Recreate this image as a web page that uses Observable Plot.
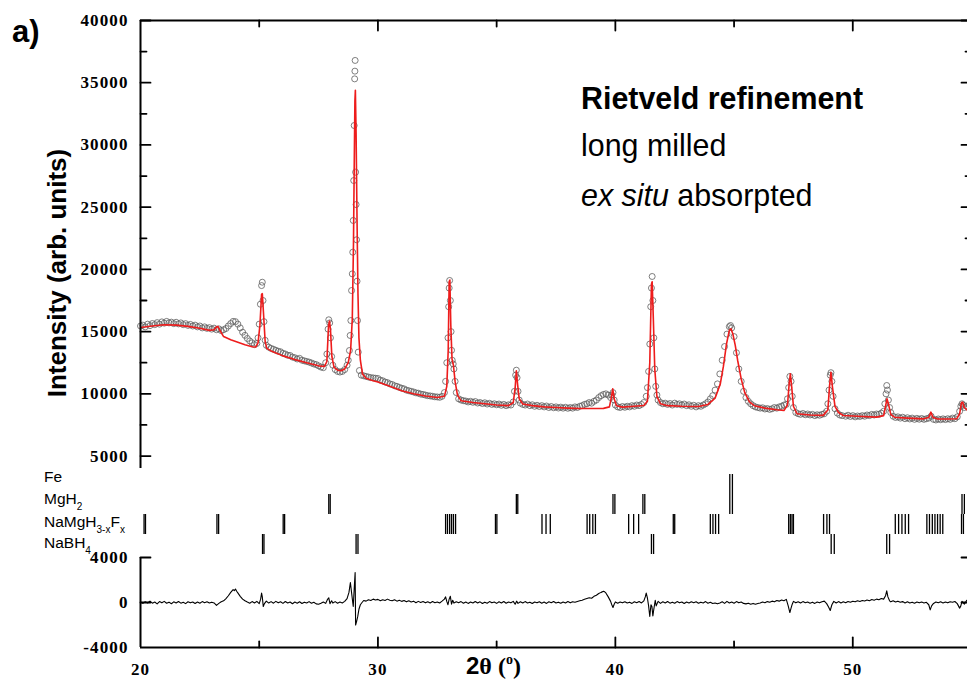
<!DOCTYPE html>
<html><head><meta charset="utf-8">
<script src="https://cdn.jsdelivr.net/npm/d3@7"></script>
<script src="https://cdn.jsdelivr.net/npm/@observablehq/plot@0.6"></script>
<style>
html,body{margin:0;padding:0;background:#fff;overflow:hidden;}
#chart{position:relative;width:967px;height:683px;overflow:hidden;background:#fff;}
#chart svg{position:absolute;left:0;top:0;}
</style></head><body><div id="chart"></div>
<script>
// ---------- data ----------
const observed = [
[20.0,15450],[20.1,15520],[20.2,15380],[20.3,15600],[20.4,15480],[20.5,15650],[20.6,15560],[20.7,15720],[20.8,15600],[20.9,15780],
[21.0,15680],[21.1,15820],[21.2,15700],[21.3,15760],[21.4,15640],[21.5,15750],[21.6,15620],[21.7,15700],[21.8,15560],[21.9,15640],
[22.0,15500],[22.1,15580],[22.2,15450],[22.3,15520],[22.4,15380],[22.5,15450],[22.6,15300],[22.7,15380],[22.8,15260],[22.9,15320],
[23.0,15200],[23.1,15280],[23.2,15150],[23.3,15220],[23.4,15080],[23.5,15150],[23.6,15250],[23.7,15450],[23.8,15650],[23.9,15820],
[24.0,15800],[24.1,15600],[24.2,15300],[24.3,14950],[24.4,14700],[24.5,14450],[24.6,14250],[24.7,14100],[24.8,13950],[24.9,14050],
[24.95,14500],[25.0,15600],[25.05,17200],[25.1,18700],[25.13,18970],[25.16,17500],[25.2,15800],[25.25,14300],[25.3,13900],[25.4,13750],
[25.5,13650],[25.6,13580],[25.7,13500],[25.8,13420],[25.9,13380],[26.0,13250],[26.1,13200],[26.2,13100],[26.3,13080],[26.4,12950],
[26.5,12900],[26.6,12800],[26.7,12850],[26.8,12700],[26.9,12650],[27.0,12600],[27.1,12550],[27.2,12480],[27.3,12400],[27.4,12350],
[27.5,12250],[27.6,12150],[27.7,12100],[27.8,12500],[27.85,13200],[27.9,15200],[27.93,15950],[27.97,15700],[28.0,14500],[28.05,13000],
[28.1,12300],[28.2,11950],[28.3,11800],[28.4,11750],[28.5,11800],[28.6,11950],[28.7,12300],[28.75,12700],[28.8,13480],[28.83,14690],
[28.86,15890],[28.89,18300],[28.92,19640],[28.94,21380],[28.96,23930],[28.98,27140],[29.0,31560],[29.02,35310],[29.03,35930],[29.04,36790],
[29.06,27810],[29.08,25210],[29.1,22380],[29.12,19050],[29.14,15890],[29.17,13350],[29.22,11870],[29.3,11500],[29.4,11450],[29.5,11400],
[29.6,11350],[29.7,11300],[29.8,11280],[29.9,11250],[30.0,11230],[30.1,11100],[30.2,11050],[30.3,10950],[30.4,10900],[30.5,10800],
[30.6,10750],[30.7,10650],[30.8,10600],[30.9,10520],[31.0,10450],[31.1,10400],[31.2,10300],[31.3,10250],[31.4,10200],[31.5,10150],
[31.6,10080],[31.7,10050],[31.8,9980],[31.9,9950],[32.0,9900],[32.1,9850],[32.2,9830],[32.3,9800],[32.4,9760],[32.5,9750],
[32.6,9720],[32.7,9800],[32.8,10100],[32.85,11000],[32.9,12500],[32.95,14500],[32.98,17000],[33.0,18500],[33.02,19110],[33.05,17500],
[33.08,15000],[33.1,13500],[33.13,12700],[33.17,12400],[33.2,12000],[33.25,11000],[33.3,10100],[33.4,9600],[33.5,9500],[33.6,9450],
[33.7,9420],[33.8,9350],[33.9,9400],[34.0,9320],[34.1,9380],[34.2,9260],[34.3,9300],[34.4,9220],[34.5,9280],[34.6,9180],
[34.7,9240],[34.8,9150],[34.9,9200],[35.0,9120],[35.1,9180],[35.2,9080],[35.3,9150],[35.4,9050],[35.5,9120],[35.6,9100],
[35.7,9350],[35.75,10200],[35.8,11500],[35.83,11900],[35.86,11300],[35.9,10200],[35.95,9500],[36.0,9250],[36.1,9150],[36.2,9100],
[36.3,9180],[36.4,9050],[36.5,9120],[36.6,9000],[36.7,9080],[36.8,8980],[36.9,9050],[37.0,8950],[37.1,9020],[37.2,8900],
[37.3,8980],[37.4,8880],[37.5,8950],[37.6,8860],[37.7,8930],[37.8,8850],[37.9,8920],[38.0,8840],[38.1,8900],[38.2,8850],
[38.3,8950],[38.4,8900],[38.5,9000],[38.6,9050],[38.7,9150],[38.8,9200],[38.9,9300],[39.0,9250],[39.1,9400],[39.2,9500],
[39.3,9700],[39.4,9850],[39.5,9950],[39.6,10000],[39.7,9900],[39.8,9700],[39.85,9900],[39.9,10100],[39.95,9500],[40.0,9100],
[40.1,8950],[40.2,8900],[40.3,8980],[40.4,8920],[40.5,9000],[40.6,8950],[40.7,9050],[40.8,9000],[40.9,9100],[41.0,9050],
[41.1,9150],[41.2,9300],[41.3,9800],[41.35,10500],[41.4,11800],[41.45,14000],[41.49,17000],[41.52,18500],[41.55,19430],[41.58,17500],
[41.62,14500],[41.66,12000],[41.7,10600],[41.75,9900],[41.8,9500],[41.9,9300],[42.0,9200],[42.1,9250],[42.2,9150],[42.3,9220],
[42.4,9100],[42.5,9250],[42.6,9150],[42.7,9200],[42.8,9100],[42.9,9180],[43.0,9050],[43.1,9120],[43.2,9000],[43.3,9080],
[43.4,8950],[43.5,9050],[43.6,9000],[43.7,9100],[43.8,9200],[43.9,9350],[44.0,9600],[44.1,9850],[44.2,10300],[44.3,10800],
[44.4,11600],[44.5,12700],[44.6,13800],[44.7,14800],[44.8,15400],[44.85,15490],[44.9,15300],[45.0,14600],[45.1,13300],[45.2,12000],
[45.3,11000],[45.4,10200],[45.5,9700],[45.6,9400],[45.7,9200],[45.8,9050],[45.9,8950],[46.0,8900],[46.1,8850],[46.2,8880],
[46.3,8780],[46.4,8820],[46.5,8750],[46.6,8800],[46.7,8900],[46.8,8850],[46.9,8950],[47.0,9000],[47.1,9100],[47.2,9150],
[47.25,9600],[47.3,10500],[47.35,11400],[47.4,11000],[47.45,9800],[47.5,8900],[47.6,8500],[47.7,8400],[47.8,8350],[47.9,8420],
[48.0,8320],[48.1,8380],[48.2,8300],[48.3,8350],[48.4,8250],[48.5,8320],[48.6,8280],[48.7,8350],[48.8,8400],[48.9,8600],
[48.95,9200],[49.0,10300],[49.05,11500],[49.08,11700],[49.12,11000],[49.17,9800],[49.25,8800],[49.35,8450],[49.45,8300],[49.55,8250],
[49.7,8200],[49.8,8280],[49.9,8180],[50.0,8250],[50.1,8150],[50.2,8220],[50.3,8180],[50.4,8250],[50.5,8200],[50.6,8300],
[50.7,8250],[50.8,8350],[50.9,8300],[51.0,8380],[51.1,8350],[51.2,8450],[51.3,8600],[51.35,9200],[51.4,10000],[51.43,10670],
[51.46,10300],[51.5,9500],[51.55,8900],[51.6,8500],[51.7,8200],[51.8,8100],[51.9,8150],[52.0,8050],[52.1,8120],[52.2,8000],
[52.3,8080],[52.4,7980],[52.5,8050],[52.6,7950],[52.7,8030],[52.8,7960],[52.9,8020],[53.0,7950],[53.1,8000],[53.2,8050],
[53.3,8200],[53.4,7950],[53.5,7900],[53.6,7980],[53.7,7920],[53.8,7990],[53.9,7930],[54.0,8000],[54.1,7950],[54.2,8050],
[54.3,8000],[54.4,8150],[54.5,8600],[54.55,9000],[54.6,9200],[54.65,9100],[54.7,8900],[54.8,9000],[54.9,9100],[55.0,9150]
];

const calculated = [
[20.0,15330],[20.5,15450],[21.0,15550],[21.5,15520],[22.0,15420],[22.5,15270],[22.9,15100],[23.1,15150],[23.2,15380],[23.26,15420],
[23.33,15150],[23.5,14600],[23.8,14350],[24.1,14150],[24.4,13950],[24.7,13780],[24.85,13760],[24.95,14100],[25.03,15500],[25.1,18000],
[25.13,18050],[25.18,16500],[25.25,14200],[25.32,13650],[25.5,13450],[26.0,13050],[26.5,12750],[27.0,12500],[27.5,12250],[27.75,12200],
[27.85,12600],[27.92,15500],[27.96,15850],[28.0,15200],[28.06,13000],[28.15,12150],[28.3,11900],[28.45,11850],[28.6,12000],[28.75,12500],
[28.85,13500],[28.92,16000],[28.97,22000],[29.0,28000],[29.03,33500],[29.05,34400],[29.08,31000],[29.12,24000],[29.16,18000],[29.2,14500],
[29.26,12700],[29.35,11600],[29.5,11250],[29.8,11050],[30.0,10950],[30.5,10600],[31.0,10250],[31.5,10000],[32.0,9820],[32.5,9700],
[32.8,9800],[32.9,10600],[32.96,13500],[33.0,19000],[33.03,19150],[33.07,15500],[33.12,12800],[33.18,12300],[33.25,11000],[33.35,9900],
[33.5,9450],[34.0,9300],[34.5,9200],[35.0,9100],[35.5,9050],[35.7,9300],[35.78,10500],[35.83,11850],[35.88,10800],[35.95,9600],
[36.1,9180],[36.5,9050],[37.0,8950],[37.5,8900],[38.0,8850],[38.5,8820],[39.0,8820],[39.5,8830],[39.75,8950],[39.83,9700],
[39.89,10400],[39.95,9600],[40.05,9050],[40.3,8930],[40.8,9000],[41.2,9060],[41.35,9400],[41.45,12500],[41.52,18800],[41.55,19000],
[41.6,16000],[41.66,12000],[41.75,9800],[41.9,9200],[42.2,9050],[42.8,9000],[43.5,8980],[43.9,9150],[44.2,9650],[44.42,10800],
[44.55,12200],[44.68,14000],[44.8,15100],[44.87,15230],[44.95,14800],[45.05,13900],[45.15,12700],[45.3,11200],[45.45,10100],[45.65,9350],
[45.85,9050],[46.3,8850],[46.8,8720],[47.1,8660],[47.25,9100],[47.32,10800],[47.37,11610],[47.42,10700],[47.5,9000],[47.65,8400],
[48.2,8300],[48.75,8270],[48.95,8700],[49.02,10600],[49.08,11740],[49.14,10600],[49.25,9000],[49.4,8500],[49.6,8260],[50.2,8200],
[51.0,8130],[51.3,8250],[51.38,9000],[51.44,9600],[51.5,9200],[51.6,8350],[51.75,8120],[52.3,8050],[52.98,7990],[53.2,8100],
[53.29,8530],[53.38,8100],[53.55,7990],[54.0,7980],[54.38,8000],[54.5,8400],[54.58,9300],[54.63,9330],[54.7,8900],[54.85,8650],[55.0,8600]
];

const difference = [
[20.0,50],[20.1,-80],[20.2,60],[20.3,-40],[20.4,120],[20.5,-60],[20.6,40],[20.7,-120],[20.8,80],[20.9,-30],
[21.0,100],[21.1,-70],[21.2,30],[21.3,-110],[21.4,60],[21.5,-40],[21.6,90],[21.7,-60],[21.8,20],[21.9,-100],
[22.0,70],[22.1,-30],[22.2,50],[22.3,-90],[22.4,40],[22.5,-60],[22.6,80],[22.7,-20],[22.8,60],[22.9,-50],
[23.0,30],[23.1,-40],[23.2,-250],[23.3,-80],[23.4,60],[23.5,150],[23.6,350],[23.7,600],[23.8,900],[23.9,1150],
[23.95,1050],[24.0,1200],[24.05,1000],[24.1,850],[24.2,550],[24.3,300],[24.4,150],[24.5,40],[24.6,-60],[24.7,80],
[24.8,-40],[24.9,100],[25.0,-100],[25.06,300],[25.1,840],[25.13,500],[25.17,-360],[25.22,-100],[25.3,120],[25.4,-50],
[25.5,80],[25.6,-60],[25.7,100],[25.8,-30],[25.9,60],[26.0,-80],[26.1,90],[26.2,-40],[26.3,50],[26.4,-110],
[26.5,40],[26.6,-60],[26.7,70],[26.8,-90],[26.9,30],[27.0,-50],[27.1,80],[27.2,-70],[27.3,20],[27.4,-120],
[27.5,-150],[27.6,-60],[27.7,50],[27.8,-80],[27.87,250],[27.93,420],[27.98,-100],[28.05,150],[28.1,-50],[28.2,80],
[28.3,-60],[28.4,40],[28.5,-40],[28.6,100],[28.7,350],[28.78,900],[28.84,1780],[28.9,700],[28.96,-360],[29.0,1200],
[29.04,2670],[29.06,-2000],[29.1,-1700],[29.15,-1240],[29.2,-600],[29.26,-200],[29.33,0],[29.4,180],[29.5,120],[29.6,250],
[29.7,180],[29.8,300],[29.9,220],[30.0,280],[30.1,150],[30.2,250],[30.3,180],[30.4,300],[30.5,200],[30.6,150],
[30.7,250],[30.8,120],[30.9,200],[31.0,100],[31.1,180],[31.2,60],[31.3,150],[31.4,40],[31.5,120],[31.6,-20],
[31.7,100],[31.8,0],[31.9,80],[32.0,-30],[32.1,60],[32.2,-40],[32.3,80],[32.4,-20],[32.5,50],[32.6,-40],
[32.7,120],[32.8,300],[32.85,500],[32.9,100],[32.95,-200],[33.0,300],[33.05,550],[33.1,-150],[33.15,200],[33.2,-50],
[33.3,60],[33.4,-20],[33.5,80],[33.6,-60],[33.7,50],[33.8,-80],[33.9,40],[34.0,-50],[34.1,90],[34.2,-40],
[34.3,60],[34.4,-90],[34.5,30],[34.6,-60],[34.7,80],[34.8,-30],[34.9,50],[35.0,-80],[35.1,60],[35.2,-40],
[35.3,90],[35.4,-70],[35.5,40],[35.6,-30],[35.7,100],[35.78,-150],[35.84,120],[35.9,-80],[36.0,60],[36.1,-50],
[36.2,80],[36.3,-40],[36.4,30],[36.5,-90],[36.6,50],[36.7,-30],[36.8,70],[36.9,-60],[37.0,40],[37.1,-80],
[37.2,60],[37.3,-20],[37.4,90],[37.5,-50],[37.6,30],[37.7,-70],[37.8,50],[37.9,-40],[38.0,80],[38.1,-30],
[38.2,60],[38.3,20],[38.4,90],[38.5,150],[38.6,200],[38.7,280],[38.8,350],[38.9,420],[39.0,380],[39.1,550],
[39.2,650],[39.3,800],[39.4,900],[39.5,990],[39.55,950],[39.6,850],[39.7,500],[39.8,100],[39.85,-200],[39.9,-440],
[39.95,-150],[40.0,50],[40.1,-60],[40.2,40],[40.3,-30],[40.4,70],[40.5,-50],[40.6,30],[40.7,-80],[40.8,60],
[40.9,-20],[41.0,80],[41.1,-40],[41.2,150],[41.26,500],[41.3,840],[41.35,400],[41.4,-300],[41.45,-1240],[41.5,-200],
[41.54,-360],[41.58,-1200],[41.62,-600],[41.68,200],[41.72,-300],[41.8,100],[41.9,-80],[42.0,60],[42.1,-40],[42.2,90],
[42.3,-60],[42.4,30],[42.5,-70],[42.6,80],[42.7,-30],[42.8,50],[42.9,-90],[43.0,40],[43.1,-50],[43.2,70],
[43.3,-20],[43.4,60],[43.5,-70],[43.6,30],[43.7,-40],[43.8,80],[43.9,-60],[44.0,20],[44.1,-90],[44.2,-50],
[44.3,-120],[44.4,-40],[44.5,60],[44.6,-80],[44.7,100],[44.8,-40],[44.9,50],[45.0,-60],[45.1,80],[45.2,-30],
[45.3,40],[45.4,-80],[45.5,-120],[45.6,-60],[45.7,-150],[45.8,-80],[45.9,-160],[46.0,-90],[46.1,-40],[46.2,50],
[46.3,-20],[46.4,80],[46.5,20],[46.6,120],[46.7,60],[46.8,180],[46.9,120],[47.0,220],[47.1,150],[47.2,280],
[47.28,-300],[47.35,-890],[47.4,-500],[47.45,-150],[47.5,100],[47.6,-30],[47.7,60],[47.8,-50],[47.9,80],[48.0,-20],
[48.1,40],[48.2,-60],[48.3,30],[48.4,-80],[48.5,50],[48.6,-30],[48.7,70],[48.8,120],[48.9,-100],[48.98,-400],
[49.05,-710],[49.12,-200],[49.2,100],[49.3,-50],[49.4,80],[49.5,-40],[49.6,60],[49.7,-20],[49.8,90],[49.9,20],
[50.0,110],[50.1,60],[50.2,150],[50.3,90],[50.4,180],[50.5,130],[50.6,220],[50.7,160],[50.8,260],[50.9,200],
[51.0,300],[51.1,250],[51.2,350],[51.3,300],[51.38,600],[51.43,1040],[51.48,500],[51.55,150],[51.6,60],[51.7,150],
[51.8,40],[51.9,120],[52.0,20],[52.1,80],[52.2,-40],[52.3,60],[52.4,-50],[52.5,30],[52.6,-60],[52.7,50],
[52.8,-30],[52.9,40],[53.0,-50],[53.1,20],[53.2,-200],[53.26,-650],[53.32,-300],[53.4,-80],[53.5,40],[53.6,-20],
[53.7,60],[53.8,-40],[53.9,50],[54.0,-30],[54.1,70],[54.2,20],[54.3,90],[54.4,-100],[54.5,-500],[54.55,-300],
[54.6,100],[54.7,-150],[54.8,200],[54.9,150],[55.0,120]
];

// phase reflection positions (2θ, degrees)
const phaseNames = ["Fe", "MgH2", "NaMgH3-xFx", "NaBH4"];
const feReflections = [44.82, 44.93];
const mgh2Reflections = [27.93, 27.99, 35.83, 35.89, 39.90, 39.98, 41.16, 41.24, 44.82, 44.93, 54.60, 54.70];
const namghReflections = [20.15, 20.21, 23.22, 23.29, 26.01, 26.07, 32.85, 32.93, 33.02, 33.10, 33.18, 33.27, 34.95, 35.01,
  36.91, 37.08, 37.26, 38.81, 38.92, 39.05, 39.16, 40.56, 40.77, 40.98, 42.44, 42.50, 44.00, 44.11, 44.22, 44.35,
  47.30, 47.37, 47.44, 47.50, 48.77, 48.91, 49.02, 51.79, 51.93, 52.07, 52.21, 52.35,
  53.12, 53.23, 53.35, 53.46, 53.57, 53.68, 53.79, 54.58, 54.66];
const nabh4Reflections = [25.14, 25.20, 29.08, 29.16, 41.52, 41.61, 49.09, 49.22, 51.43, 51.55];

// axis tick values
const upperMajorTicks = [5000, 10000, 15000, 20000, 25000, 30000, 35000, 40000];
const upperMinorTicks = [7500, 12500, 17500, 22500, 27500, 32500, 37500];
const lowerYTicks = [4000, 0, -4000];
const xMajorTicks = [20, 30, 40, 50];
const xMinorTicks = [25, 35, 45, 55];

// ---------- drawing ----------
const W = 967, H = 683;
const xOpts = {domain: [20, 55], range: [140, 971], axis: null};
const tickShape = {draw(ctx, l) { ctx.moveTo(0, 0); ctx.lineTo(0, -l); }};
const tickFont = {fontSize: 17, fontWeight: "bold", fontFamily: "Liberation Serif, Times New Roman, serif"};
const base = {width: W, height: H, marginLeft: 140, marginRight: 0,
  style: {background: "transparent", letterSpacing: "1.1px", overflow: "hidden"}};
const root = document.getElementById("chart");
const frameW = 2;

// upper panel
const upper = Plot.plot({
  ...base,
  marginTop: 20, marginBottom: 215,
  x: xOpts,
  y: {domain: [4000, 40000], range: [468, 20]},
  marks: [
    Plot.dot(observed, {x: d => d[0], y: d => d[1], r: 3, stroke: "#5e5e5e", strokeWidth: 0.8, fill: "none"}),
    Plot.line(calculated, {x: d => d[0], y: d => d[1], stroke: "#ee1c1c", strokeWidth: 1.6}),
    Plot.ruleX([20], {y1: 4000, y2: 40000, strokeWidth: frameW, stroke: "#000"}),
    Plot.ruleX([55], {y1: 4000, y2: 40000, strokeWidth: frameW, stroke: "#000"}),
    Plot.ruleY([40000], {x1: 20, x2: 55, strokeWidth: frameW, stroke: "#000"}),
    Plot.vector(upperMajorTicks, {x: 20, y: d => d, length: 10, rotate: 90, anchor: "start", shape: tickShape, strokeWidth: 1.8, stroke: "#000"}),
    Plot.vector(upperMinorTicks, {x: 20, y: d => d, length: 6, rotate: 90, anchor: "start", shape: tickShape, strokeWidth: 1.8, stroke: "#000"}),
    Plot.vector(upperMajorTicks, {x: 55, y: d => d, length: 10, rotate: 270, anchor: "start", shape: tickShape, strokeWidth: 1.8, stroke: "#000"}),
    Plot.vector(upperMinorTicks, {x: 55, y: d => d, length: 6, rotate: 270, anchor: "start", shape: tickShape, strokeWidth: 1.8, stroke: "#000"}),
    Plot.vector(xMajorTicks.slice(1), {x: d => d, y: 40000, length: 10, rotate: 180, anchor: "start", shape: tickShape, strokeWidth: 1.8, stroke: "#000"}),
    Plot.vector(xMinorTicks, {x: d => d, y: 40000, length: 6, rotate: 180, anchor: "start", shape: tickShape, strokeWidth: 1.8, stroke: "#000"}),
    Plot.axisY(upperMajorTicks, {anchor: "left", tickSize: 0, tickPadding: 12, tickFormat: d => String(d), label: null, ...tickFont})
  ]
});

// phase reflection markers
const reflections = [
  ...feReflections.map(p => ({phase: phaseNames[0], pos: p})),
  ...mgh2Reflections.map(p => ({phase: phaseNames[1], pos: p})),
  ...namghReflections.map(p => ({phase: phaseNames[2], pos: p})),
  ...nabh4Reflections.map(p => ({phase: phaseNames[3], pos: p}))
];
const markers = Plot.plot({
  ...base,
  marginTop: 473, marginBottom: 129,
  x: xOpts,
  y: {type: "band", domain: phaseNames, range: [473, 554], padding: 0, axis: null},
  marks: [
    Plot.tickX(reflections, {x: "pos", y: "phase", strokeWidth: 1.3, stroke: "#000"})
  ]
});

// difference panel
const lower = Plot.plot({
  ...base,
  marginTop: 557, marginBottom: 36,
  x: xOpts,
  y: {domain: [-4000, 4000], range: [647, 557]},
  marks: [
    Plot.line(difference, {x: d => d[0], y: d => d[1], stroke: "#000", strokeWidth: 1.1}),
    Plot.ruleX([20], {y1: -4000, y2: 4000, strokeWidth: frameW, stroke: "#000"}),
    Plot.ruleX([55], {y1: -4000, y2: 4000, strokeWidth: frameW, stroke: "#000"}),
    Plot.ruleY([-4000], {x1: 20, x2: 55, strokeWidth: frameW, stroke: "#000"}),
    Plot.vector([4000, 0], {x: 20, y: d => d, length: 10, rotate: 90, anchor: "start", shape: tickShape, strokeWidth: 1.8, stroke: "#000"}),
    Plot.vector([4000, 0], {x: 55, y: d => d, length: 10, rotate: 270, anchor: "start", shape: tickShape, strokeWidth: 1.8, stroke: "#000"}),
    Plot.vector(xMajorTicks.slice(1), {x: d => d, y: -4000, length: 10, rotate: 0, anchor: "start", shape: tickShape, strokeWidth: 1.8, stroke: "#000"}),
    Plot.vector(xMinorTicks, {x: d => d, y: -4000, length: 6, rotate: 0, anchor: "start", shape: tickShape, strokeWidth: 1.8, stroke: "#000"}),
    Plot.axisY(lowerYTicks, {anchor: "left", tickSize: 0, tickPadding: 12, tickFormat: d => String(d), label: null, ...tickFont}),
    Plot.axisX(xMajorTicks, {anchor: "bottom", tickSize: 0, tickPadding: 15, tickFormat: d => String(d), label: null, ...tickFont})
  ]
});

root.append(upper, markers, lower);

// ---------- annotations ----------
const ann = d3.create("svg").attr("width", W).attr("height", H)
  .style("font-family", "Liberation Sans, Arial, sans-serif").style("pointer-events", "none");

ann.append("text").attr("x", 12).attr("y", 42).attr("font-size", 31).attr("font-weight", "bold").text("a)");

const info = ann.append("g").attr("font-size", 32);
info.append("text").attr("transform", "translate(581,109) scale(0.95,1)").attr("font-weight", "bold").text("Rietveld refinement");
info.append("text").attr("transform", "translate(581,156) scale(0.95,1)").text("long milled");
const l3 = info.append("text").attr("transform", "translate(581,206) scale(0.95,1)");
l3.append("tspan").attr("font-style", "italic").text("ex situ");
l3.append("tspan").text(" absorpted");

ann.append("text").attr("transform", "translate(66,273) rotate(-90)").attr("text-anchor", "middle")
  .attr("font-size", 26).attr("font-weight", "bold").text("Intensity (arb. units)");

const xl = ann.append("text").attr("x", 466).attr("y", 674).attr("font-size", 24).attr("font-weight", "bold");
xl.append("tspan").text("2");
xl.append("tspan").attr("font-family", "Liberation Serif, serif").text("θ (");
xl.append("tspan").attr("font-size", 14).attr("dy", -10).attr("font-family", "Liberation Serif, serif").text("o");
xl.append("tspan").attr("dy", 10).attr("font-family", "Liberation Serif, serif").text(")");

// phase labels (with subscripts)
const phaseLabels = [
  {y: 482, parts: [["Fe", 0]]},
  {y: 504, parts: [["MgH", 0], ["2", 1]]},
  {y: 527, parts: [["NaMgH", 0], ["3-x", 1], ["F", 0], ["x", 1]]},
  {y: 548, parts: [["NaBH", 0], ["4", 1]]}
];
for (const pl of phaseLabels) {
  const t = ann.append("text").attr("x", 44).attr("y", pl.y).attr("font-size", 15.5);
  let sub = 0;
  for (const [s, isSub] of pl.parts) {
    const sp = t.append("tspan").text(s);
    if (isSub && !sub) { sp.attr("dy", 6).attr("font-size", 10); sub = 1; }
    else if (isSub && sub) { sp.attr("font-size", 10); }
    else if (!isSub && sub) { sp.attr("dy", -6); sub = 0; }
  }
}
root.append(ann.node());
</script>
</body></html>
